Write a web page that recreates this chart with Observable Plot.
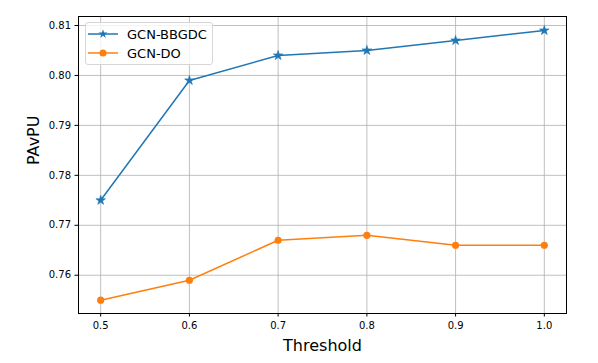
<!DOCTYPE html>
<html>
<head>
<meta charset="utf-8">
<script src="https://cdn.jsdelivr.net/npm/d3@7"></script>
<script src="https://cdn.jsdelivr.net/npm/@observablehq/plot@0.6"></script>
<style>
  body { margin: 0; background: #fff; font-family: "DejaVu Sans", sans-serif; }
  #wrap { position: relative; width: 598px; height: 363px; }
  #legend { position: absolute; left: 85px; top: 22px; width: 128px; height: 43px;
    border: 1px solid #d6d6d6; border-radius: 3px; background: rgba(255,255,255,0.8);
    font-family: "DejaVu Sans", sans-serif; font-size: 13px; color: #000; box-sizing: border-box; }
  .row { position: absolute; left: 0; height: 18px; display: flex; align-items: center; }
  .row svg { margin-left: 2px; }
  .row span { margin-left: 9px; }
</style>
</head>
<body>
<div id="wrap"></div>
<script>
const thresholds = [0.5, 0.6, 0.7, 0.8, 0.9, 1.0];
const bbgdc = [0.775, 0.799, 0.804, 0.805, 0.807, 0.809];
const gcndo = [0.755, 0.759, 0.767, 0.768, 0.766, 0.766];
const seriesNames = ["GCN-BBGDC", "GCN-DO"];
const seriesColors = ["#1f77b4", "#ff7f0e"];
const yTicks = [0.76, 0.77, 0.78, 0.79, 0.80, 0.81];

const dataA = thresholds.map((t, i) => ({x: t, y: bbgdc[i]}));
const dataB = thresholds.map((t, i) => ({x: t, y: gcndo[i]}));

const chart = Plot.plot({
  width: 598,
  height: 363,
  marginLeft: 78,
  marginTop: 16,
  marginRight: 32,
  marginBottom: 50,
  style: {fontFamily: "DejaVu Sans, sans-serif", background: "#fff", color: "#000"},
  x: {domain: [0.475, 1.025]},
  y: {domain: [0.75234, 0.8118]},
  marks: [
    Plot.gridX(thresholds, {stroke: "#b0b0b0", strokeOpacity: 0.8, strokeWidth: 1}),
    Plot.gridY(yTicks, {stroke: "#b0b0b0", strokeOpacity: 0.8, strokeWidth: 1}),
    Plot.axisX(thresholds, {tickFormat: d3.format(".1f"), tickSize: 3.5, tickPadding: 5, fontSize: 10, label: null, stroke: "#000"}),
    Plot.axisY(yTicks, {tickFormat: d3.format(".2f"), tickSize: 3.5, tickPadding: 4, fontSize: 10, label: null, stroke: "#000"}),
    Plot.text(["Threshold"], {frameAnchor: "bottom", dy: 37, fontSize: 16, lineAnchor: "bottom", fill: "#000"}),
    Plot.text(["PAvPU"], {frameAnchor: "left", dx: -45, rotate: -90, fontSize: 16, fill: "#000"}),
    Plot.line(dataA, {x: "x", y: "y", stroke: seriesColors[0], strokeWidth: 1.5}),
    Plot.dot(dataA, {x: "x", y: "y", symbol: "star", r: 3, fill: seriesColors[0], stroke: seriesColors[0], strokeWidth: 0.6}),
    Plot.line(dataB, {x: "x", y: "y", stroke: seriesColors[1], strokeWidth: 1.5}),
    Plot.dot(dataB, {x: "x", y: "y", r: 3.6, fill: seriesColors[1], stroke: "none"}),
    Plot.frame({stroke: "#000", strokeWidth: 1})
  ]
});
const wrap = document.getElementById("wrap");
wrap.appendChild(chart);

const legend = document.createElement("div");
legend.id = "legend";
const starPath = d3.symbol(d3.symbolStar, 26)();
const circPath = d3.symbol(d3.symbolCircle, 40)();
seriesNames.forEach((name, i) => {
  const row = document.createElement("div");
  row.className = "row";
  row.style.top = (i === 0 ? 2 : 21) + "px";
  row.innerHTML = `<svg width="30" height="14"><line x1="0" x2="30" y1="7" y2="7" stroke="${seriesColors[i]}" stroke-width="1.5"/><path transform="translate(15,7)" d="${i === 0 ? starPath : circPath}" fill="${seriesColors[i]}"/></svg><span>${name}</span>`;
  legend.appendChild(row);
});
wrap.appendChild(legend);
</script>
</body>
</html>
